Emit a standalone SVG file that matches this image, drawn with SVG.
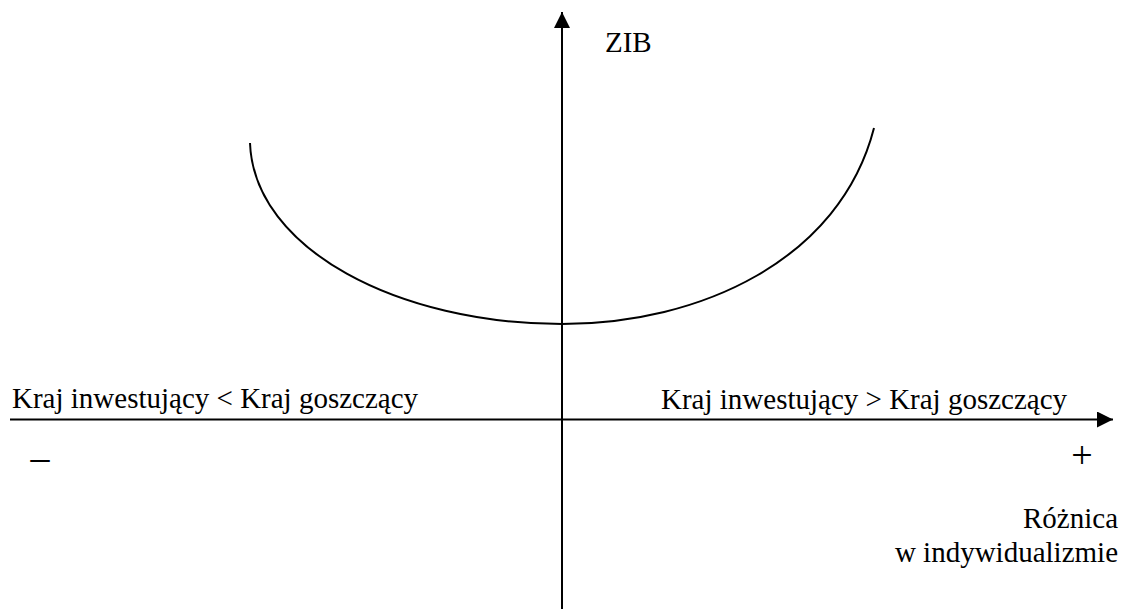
<svg xmlns="http://www.w3.org/2000/svg" width="1125" height="609" viewBox="0 0 1125 609">
<style>
.ax{stroke:#000;stroke-width:2;fill:none}
.cv{stroke:#000;stroke-width:2;fill:none}
.t{font-family:"Liberation Serif","Times New Roman",serif;font-size:29px;fill:#000}
.s{font-family:"Liberation Serif","Times New Roman",serif;font-size:38px;fill:#000}
</style>
<defs>
<marker id="ah" viewBox="0 0 16 16" refX="16" refY="8" markerWidth="16" markerHeight="16" markerUnits="userSpaceOnUse" orient="auto">
<path d="M0,0 L16,8 L0,16 Z" fill="#000"/>
</marker>
</defs>
<g id="connectors">
<line id="y-axis" class="ax" x1="562" y1="609" x2="562" y2="12" marker-end="url(#ah)"/>
<line id="x-axis" class="ax" x1="10" y1="419.5" x2="1113" y2="419.5" marker-end="url(#ah)"/>
</g>
<g id="curve">
<path class="cv" d="M250,143 C254,250 400,324 562,324 C700,324 840,260 874,128"/>
</g>
<g id="label-zib"><text class="t" x="605" y="52">ZIB</text></g>
<g id="label-left"><text class="t" x="12" y="408">Kraj inwestujący &lt; Kraj goszczący</text></g>
<g id="label-right"><text class="t" x="661" y="409">Kraj inwestujący &gt; Kraj goszczący</text></g>
<g id="label-minus"><text class="s" x="40" y="470" text-anchor="middle">–</text></g>
<g id="label-plus"><text class="s" x="1082" y="468" text-anchor="middle">+</text></g>
<g id="label-axis">
<text class="t" x="1118" y="528" text-anchor="end">Różnica</text>
<text class="t" x="1118" y="562" text-anchor="end">w indywidualizmie</text>
</g>
</svg>
